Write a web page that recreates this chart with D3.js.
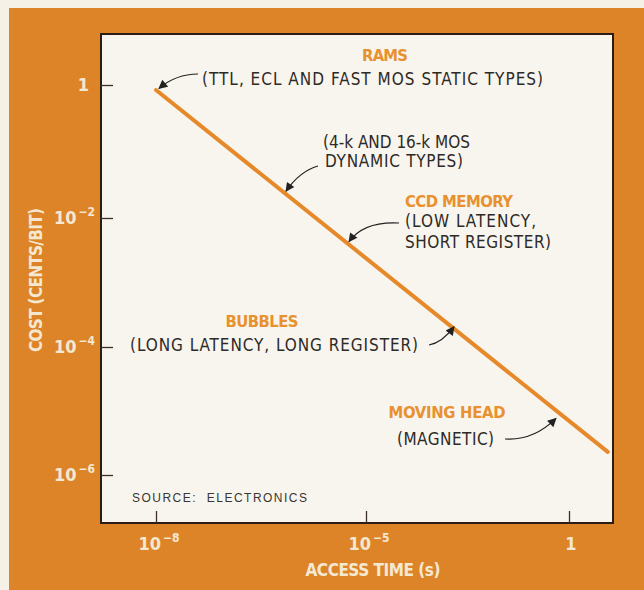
<!DOCTYPE html>
<html>
<head>
<meta charset="utf-8">
<script src="https://cdn.jsdelivr.net/npm/d3@7"></script>
<style>
  html, body { margin: 0; padding: 0; background: #f6f1e7; }
  svg { display: block; }
</style>
</head>
<body>
<script>
// Memory technology trend: cost per bit against access time (log–log)
const accessTime = [1e-8, 9];          // seconds
const costPerBit = [0.84, 2.3e-6];     // cents per bit

const xTickValues = [1e-8, 1e-5, 1];
const xTickExponents = ["−8", "−5", null];
const yTickValues = [1, 1e-2, 1e-4, 1e-6];
const yTickExponents = [null, "−2", "−4", "−6"];

const technologies = ["RAMS", null, "CCD MEMORY", "BUBBLES", "MOVING HEAD"];
const technologyNotes = [
  ["(TTL, ECL AND FAST MOS STATIC TYPES)"],
  ["(4-k AND 16-k MOS", "DYNAMIC TYPES)"],
  ["(LOW LATENCY,", "SHORT REGISTER)"],
  ["(LONG LATENCY, LONG REGISTER)"],
  ["(MAGNETIC)"]
];

const W = 644, H = 590;
const frame = { left: 101, top: 34, right: 613, bottom: 523 };
const ORANGE = "#dd8428";
const ORANGE_TEXT = "#e8912f";
const CREAM = "#f5e8d2";
const INK = "#2e2a26";
const narrowBold = "'Liberation Sans Narrow', 'DejaVu Sans Condensed', 'Arial Narrow', sans-serif";
const narrow = "'Liberation Sans Narrow', 'DejaVu Sans Condensed', 'Arial Narrow', sans-serif";
const plain = "'Liberation Sans', Arial, Helvetica, sans-serif";

const svg = d3.select("body").append("svg")
  .attr("width", W).attr("height", H);

// page + orange panel
svg.append("rect").attr("width", W).attr("height", H).attr("fill", "#f6f1e7");
svg.append("rect").attr("x", 9).attr("y", 8).attr("width", W - 9).attr("height", H - 8)
  .attr("fill", ORANGE);

// plot area
svg.append("rect")
  .attr("x", frame.left).attr("y", frame.top)
  .attr("width", frame.right - frame.left).attr("height", frame.bottom - frame.top)
  .attr("fill", "#f8f5ee").attr("stroke", "#2b1d14").attr("stroke-width", 2);

// scales (the printed axis spaces its decades unevenly, so the log scales are piecewise)
const x = d3.scaleLog().domain([1e-8, 1e-5, 1]).range([156, 366, 569]);
const y = d3.scaleLog().domain([1e-6, 1e-4, 1e-2, 1]).range([475, 347, 218, 85]);

// y axis: inward ticks
const yAxis = d3.axisRight(y).tickValues(yTickValues).tickSize(12).tickFormat("");
const gy = svg.append("g").attr("transform", `translate(${frame.left},0)`).call(yAxis);
gy.select(".domain").remove();
gy.selectAll(".tick line").attr("stroke", "#3a3028").attr("stroke-width", 1.3);

// x axis: inward ticks
const xAxis = d3.axisTop(x).tickValues(xTickValues).tickSize(12).tickFormat("");
const gx = svg.append("g").attr("transform", `translate(0,${frame.bottom})`).call(xAxis);
gx.select(".domain").remove();
gx.selectAll(".tick line").attr("stroke", "#3a3028").attr("stroke-width", 1.3);

// tick labels in powers of ten
function powerLabel(sel, exp) {
  if (exp === null) { sel.append("tspan").text("1"); return; }
  sel.append("tspan").text("10");
  sel.append("tspan").attr("dx", 2).attr("dy", -8).attr("font-size", 12).text(exp);
}

yTickValues.forEach((v, i) => {
  const t = svg.append("text")
    .attr("x", 95).attr("y", y(v) + 6)
    .attr("text-anchor", "end")
    .attr("font-family", narrowBold).attr("font-weight", "bold")
    .attr("font-size", 18).attr("fill", CREAM);
  if (yTickExponents[i] === null) t.attr("x", 89);
  powerLabel(t, yTickExponents[i]);
});

xTickValues.forEach((v, i) => {
  const t = svg.append("text")
    .attr("x", x(v) + (xTickExponents[i] === null ? 2 : 3)).attr("y", 550)
    .attr("text-anchor", "middle")
    .attr("font-family", narrowBold).attr("font-weight", "bold")
    .attr("font-size", 18).attr("fill", CREAM);
  powerLabel(t, xTickExponents[i]);
});

// axis titles
svg.append("text")
  .attr("x", 373).attr("y", 576)
  .attr("text-anchor", "middle")
  .attr("font-family", narrowBold).attr("font-weight", "bold")
  .attr("font-size", 17).attr("fill", CREAM)
  .attr("textLength", 135).attr("lengthAdjust", "spacing")
  .text("ACCESS TIME (s)");

svg.append("text")
  .attr("transform", "translate(42,280) rotate(-90)")
  .attr("text-anchor", "middle")
  .attr("font-family", narrowBold).attr("font-weight", "bold")
  .attr("font-size", 17).attr("fill", CREAM)
  .attr("textLength", 144).attr("lengthAdjust", "spacing")
  .text("COST (CENTS/BIT)");

// the trend line
const pts = accessTime.map((t, i) => [x(t), y(costPerBit[i])]);
svg.append("path")
  .attr("d", d3.line()(pts))
  .attr("fill", "none").attr("stroke", "#e5892a")
  .attr("stroke-width", 4).attr("stroke-linecap", "round");

// y on the trend line for a given screen x
const lineY = px => pts[0][1] + (px - pts[0][0]) * (pts[1][1] - pts[0][1]) / (pts[1][0] - pts[0][0]);

// arrowhead
svg.append("defs").append("marker")
  .attr("id", "head").attr("viewBox", "0 0 10 10")
  .attr("refX", 9).attr("refY", 5)
  .attr("markerWidth", 11).attr("markerHeight", 9)
  .attr("markerUnits", "userSpaceOnUse")
  .attr("orient", "auto")
  .append("path").attr("d", "M0,0 L10,5 L0,10 Z").attr("fill", "#222");

// annotation layout: title position, note lines, arrow tail/control/tip
const layout = [
  { title: [385, 61], anchor: "middle", lines: [[202, 85]], tail: [198, 74], ctrl: [176, 74], tipX: 159, tipDy: -4 },
  { title: null, anchor: "start", lines: [[323, 148], [325, 167]], tail: [318, 166], ctrl: [300, 171], tipX: 286, tipDy: -3 },
  { title: [405, 207], anchor: "start", lines: [[405, 227], [405, 248]], tail: [399, 223], ctrl: [364, 221], tipX: 349, tipDy: -3 },
  { title: [262, 327], anchor: "middle", lines: [[130, 351]], tail: [429, 345], ctrl: [442, 343], tipX: 454, tipDy: -2 },
  { title: [447, 418], anchor: "middle", lines: [[397, 445]], tail: [505, 439], ctrl: [533, 441], tipX: 556, tipDy: 8 }
];
const noteWidths = [[341], [147, 138], [131, 146], [288], [97]];
const titleWidths = [46, 0, 108, 73, 117];

layout.forEach((a, i) => {
  if (technologies[i]) {
    svg.append("text")
      .attr("x", a.title[0]).attr("y", a.title[1])
      .attr("text-anchor", a.anchor === "middle" ? "middle" : "start")
      .attr("font-family", narrowBold).attr("font-weight", "bold")
      .attr("font-size", 16.5).attr("fill", ORANGE_TEXT)
      .attr("textLength", titleWidths[i]).attr("lengthAdjust", "spacing")
      .text(technologies[i]);
  }
  technologyNotes[i].forEach((line, j) => {
    svg.append("text")
      .attr("x", a.lines[j][0]).attr("y", a.lines[j][1])
      .attr("font-family", narrow).attr("font-size", 17)
      .attr("fill", INK)
      .attr("textLength", noteWidths[i][j]).attr("lengthAdjust", "spacing")
      .text(line);
  });
  const tip = [a.tipX, lineY(a.tipX) + a.tipDy];
  svg.append("path")
    .attr("d", `M${a.tail[0]},${a.tail[1]} Q${a.ctrl[0]},${a.ctrl[1]} ${tip[0]},${tip[1]}`)
    .attr("fill", "none").attr("stroke", "#222").attr("stroke-width", 1.2)
    .attr("marker-end", "url(#head)");
});

// source note
svg.append("text")
  .attr("x", 132).attr("y", 502)
  .attr("font-family", plain).attr("font-size", 12)
  .attr("fill", "#3a3632")
  .attr("textLength", 175).attr("lengthAdjust", "spacing")
  .attr("xml:space", "preserve")
  .text("SOURCE:  ELECTRONICS");
</script>
</body>
</html>
